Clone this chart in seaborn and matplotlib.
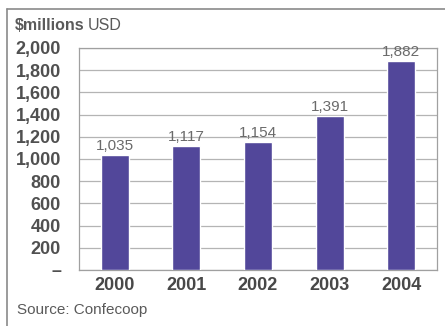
import matplotlib
matplotlib.use("Agg")
import matplotlib.pyplot as plt
import seaborn as sns
import pandas as pd

years = ["2000", "2001", "2002", "2003", "2004"]
values = [1035, 1117, 1154, 1391, 1882]
y_ticks = [0, 200, 400, 600, 800, 1000, 1200, 1400, 1600, 1800, 2000]
y_tick_labels = ["\u2013", "200", "400", "600", "800", "1,000", "1,200",
                 "1,400", "1,600", "1,800", "2,000"]

sns.set_style("white")
plt.rcParams["font.family"] = ["Liberation Sans", "DejaVu Sans"]

df = pd.DataFrame({"year": years, "value": values})

fig = plt.figure(figsize=(4.45, 3.26), dpi=100)
ax = fig.add_axes([0.1775, 0.1718, 0.8045, 0.681])

sns.barplot(data=df, x="year", y="value", color="#52479a", saturation=1,
            width=0.39, ax=ax, zorder=3)

ax.set_ylim(0, 2000)
ax.set_yticks(y_ticks)
ax.set_yticklabels(y_tick_labels)
ax.yaxis.grid(True, color="#b4b4b4", linewidth=0.9, zorder=0)
ax.set_axisbelow(True)
ax.set_xlabel("")
ax.set_ylabel("")

for s in ax.spines.values():
    s.set_color("#a0a0a0")
    s.set_linewidth(0.9)

ax.tick_params(axis="y", length=3, width=0.8, color="#909090", pad=10,
               labelsize=13, labelcolor="#505050")
ax.tick_params(axis="x", length=0, pad=5, labelsize=13, labelcolor="#484848")
for lbl in ax.get_yticklabels() + ax.get_xticklabels():
    lbl.set_fontweight("bold")

for i, v in enumerate(values):
    ax.text(i, v + 18, f"{v:,}", ha="center", va="bottom", fontsize=11,
            color="#6a6a6a")

# unit caption and source note
fig.text(15 / 445, 1 - 25 / 326, "$millions", ha="left", va="center",
         fontsize=11.5, fontweight="bold", color="#5a5a5a")
fig.text(88 / 445, 1 - 25 / 326, "USD", ha="left", va="center",
         fontsize=11.5, color="#5a5a5a")
fig.text(17 / 445, 1 - 310 / 326, "Source: Confecoop", ha="left", va="center",
         fontsize=11, color="#5a5a5a")

# enclosing frame lines (top and left)
fig.add_artist(plt.Line2D([7 / 445, 1.0], [1 - 9 / 326, 1 - 9 / 326],
                          transform=fig.transFigure, color="#8a8a8a", lw=1.2))
fig.add_artist(plt.Line2D([7 / 445, 7 / 445], [0, 1 - 9 / 326],
                          transform=fig.transFigure, color="#8a8a8a", lw=1.2))

fig.savefig("out.png", dpi=100)
